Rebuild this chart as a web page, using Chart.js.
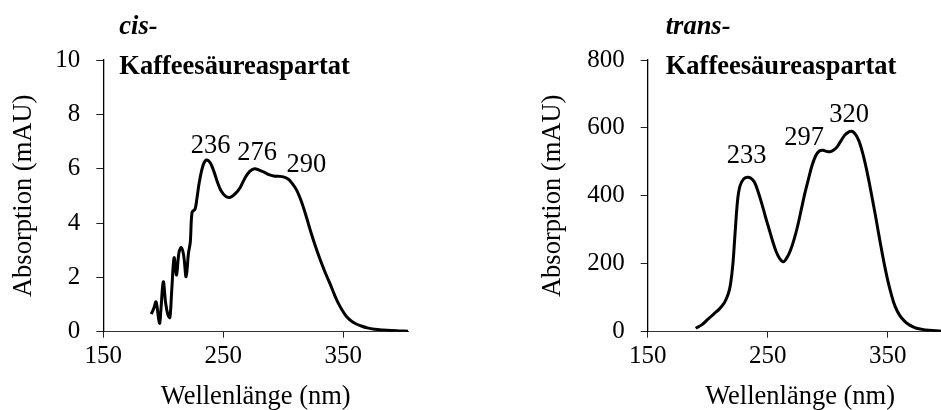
<!DOCTYPE html>
<html>
<head>
<meta charset="utf-8">
<script src="https://cdn.jsdelivr.net/npm/chart.js@4/dist/chart.umd.min.js"></script>
<style>
  html, body { margin: 0; padding: 0; width: 941px; height: 410px; overflow: hidden; background: #fff; }
  #cisBox { position: absolute; left: 0; top: 0; }
  #transBox { position: absolute; left: 470px; top: 0; }
</style>
</head>
<body>
<canvas id="cisBox" width="470" height="410"></canvas>
<canvas id="transBox" width="545" height="410"></canvas>
<script>
// wavelength ticks shared by both panels
var xTicks = [150, 250, 350];

// cis- Kaffeesaeureaspartat, absorption in mAU
var cisNm = [190, 192, 194, 196, 197, 198, 200, 202, 204, 205.5, 207, 209, 211, 213, 215, 217, 219, 221, 222.5, 224,
    226.5, 228, 230, 233, 236, 239, 242, 245, 248, 252, 256, 260, 264, 268, 272, 276, 280, 284, 288, 292,
    296, 300, 304, 307, 311, 315, 319, 323, 327, 331, 335, 339, 343, 347, 351, 355, 360, 365, 370, 376,
    383, 390, 396, 404];
var cisAbs = [0.65, 0.85, 1.10, 0.50, 0.31, 0.80, 1.84, 1.04, 0.60, 0.52, 1.50, 2.72, 2.09, 2.90, 3.10, 2.80, 2.02, 2.90, 3.30, 4.40,
    4.52, 4.90, 5.50, 6.10, 6.32, 6.22, 5.92, 5.52, 5.20, 4.98, 4.95, 5.08, 5.30, 5.65, 5.90, 6.00, 5.95, 5.87, 5.78, 5.73,
    5.72, 5.70, 5.62, 5.48, 5.22, 4.80, 4.26, 3.66, 3.12, 2.62, 2.17, 1.76, 1.32, 0.95, 0.66, 0.45, 0.30, 0.21, 0.14, 0.09,
    0.06, 0.04, 0.03, 0.02];
var cisPeaks = [236, 276, 290];
var cisYTicks = [0, 2, 4, 6, 8, 10];

// trans- Kaffeesaeureaspartat, absorption in mAU
var transNm = [190, 195, 200, 205, 210, 214, 217, 219, 221, 223, 225, 227, 230, 233, 236, 239, 242, 245, 248, 251,
    254, 257, 260, 263, 266, 269, 272, 275, 278, 281, 284, 287, 290, 293, 296, 299, 302, 305, 308, 311,
    314, 317, 320, 323, 326, 329, 332, 335, 338, 341, 344, 347, 350, 353, 356, 360, 364, 368, 374, 382,
    390, 398, 404];
var transAbs = [10, 20, 36, 52, 68, 86, 110, 140, 200, 300, 390, 430, 450, 455, 452, 440, 412, 378, 340, 304,
    268, 236, 215, 206, 218, 240, 272, 312, 360, 408, 450, 490, 518, 532, 534, 531, 530, 535, 545, 562,
    578, 587, 590, 582, 562, 528, 484, 432, 376, 318, 258, 202, 152, 110, 76, 48, 31, 20, 10, 5,
    3, 1, 0];
var transPeaks = [233, 297, 320];
var transYTicks = [0, 200, 400, 600, 800];

Chart.defaults.font.family = '"Liberation Serif", "Times New Roman", serif';
Chart.defaults.color = '#000';

// draws the name of the substance and the peak wavelengths
var textPlugin = {
    id: 'peakText',
    afterDatasetsDraw: function (chart, args, opts) {
        var ctx = chart.ctx;
        var xs = chart.scales.x, ys = chart.scales.y;
        var area = chart.chartArea;
        var ds = chart.data.datasets[0].data;
        ctx.save();
        ctx.fillStyle = '#000';
        ctx.textAlign = 'left';
        ctx.textBaseline = 'alphabetic';
        ctx.font = 'italic bold 26.5px "Liberation Serif", serif';
        ctx.fillText(opts.prefix, area.left + opts.titleDx, 34);
        ctx.font = 'bold 26.5px "Liberation Serif", serif';
        ctx.fillText('Kaffeesäureaspartat', area.left + opts.titleDx, 74);

        ctx.font = '26.5px "Liberation Serif", serif';
        ctx.textAlign = 'center';
        opts.peaks.forEach(function (nm, i) {
            var best = ds[0];
            ds.forEach(function (p) {
                if (Math.abs(p.x - nm) < Math.abs(best.x - nm)) best = p;
            });
            var off = opts.offsets[i];
            ctx.fillText(String(nm), xs.getPixelForValue(nm) + off[0], ys.getPixelForValue(best.y) + off[1]);
        });
        ctx.restore();
    }
};

function makeChart(id, nm, abs, yMax, yTicks, yAxisWidth, yTitlePad, rightPad, textOpts) {
    var points = nm.map(function (v, i) { return { x: v, y: abs[i] }; });
    return new Chart(document.getElementById(id), {
        type: 'line',
        data: {
            datasets: [{
                data: points,
                borderColor: '#000',
                borderWidth: 3,
                pointRadius: 0,
                tension: 0.35,
                fill: false
            }]
        },
        options: {
            responsive: false,
            animation: false,
            devicePixelRatio: 1,
            layout: { padding: { top: 60, right: rightPad, left: 0, bottom: 0 } },
            plugins: {
                legend: { display: false },
                tooltip: { enabled: false },
                peakText: textOpts
            },
            scales: {
                x: {
                    type: 'linear',
                    min: 150,
                    max: 404,
                    afterBuildTicks: function (scale) {
                        scale.ticks = xTicks.map(function (v) { return { value: v }; });
                    },
                    afterFit: function (scale) { scale.height = 78.3; },
                    grid: { drawOnChartArea: false, drawTicks: true, tickLength: 6, color: '#222' },
                    border: { display: true, color: '#333', width: 1 },
                    ticks: { font: { size: 25 }, padding: 4, maxRotation: 0 },
                    title: {
                        display: true,
                        text: 'Wellenlänge (nm)',
                        font: { size: 26.5 },
                        padding: { top: 0, bottom: -3 }
                    }
                },
                y: {
                    min: 0,
                    max: yMax,
                    afterBuildTicks: function (scale) {
                        scale.ticks = yTicks.map(function (v) { return { value: v }; });
                    },
                    afterFit: function (scale) { scale.width = yAxisWidth; },
                    grid: { drawOnChartArea: false, drawTicks: true, tickLength: 7, color: '#222' },
                    border: { display: true, color: '#000', width: 1.3 },
                    ticks: { font: { size: 25 }, padding: 16 },
                    title: {
                        display: true,
                        text: 'Absorption (mAU)',
                        font: { size: 26.5 },
                        padding: { top: yTitlePad, bottom: 0 }
                    }
                }
            }
        },
        plugins: [textPlugin]
    });
}

makeChart('cisBox', cisNm, cisAbs, 10, cisYTicks, 103.3, 8, 61.9, {
    prefix: 'cis-',
    titleDx: 16,
    peaks: cisPeaks,
    offsets: [[4, -7], [2.5, -8.7], [35, -3]]
});

makeChart('transBox', transNm, transAbs, 800, transYTicks, 177.7, 67, 62.5, {
    prefix: 'trans-',
    titleDx: 18,
    peaks: transPeaks,
    offsets: [[-0.6, -14], [-20, -5], [-2.7, -9]]
});
</script>
</body>
</html>
